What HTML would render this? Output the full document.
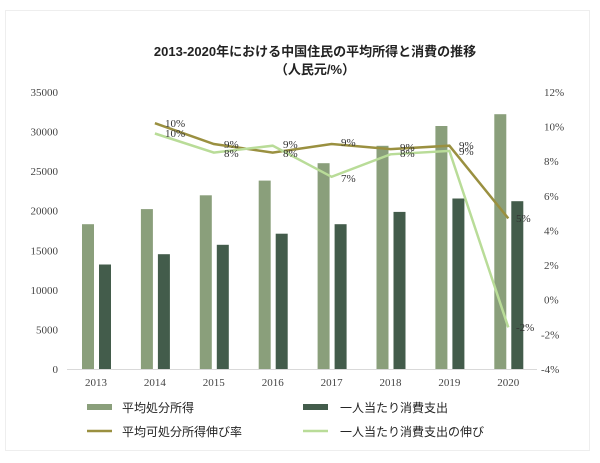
<!DOCTYPE html>
<html><head><meta charset="utf-8"><style>
body{margin:0;background:#fff;width:600px;height:463px;overflow:hidden}
svg{display:block}
.ax{font-family:"Liberation Serif",serif;font-size:11px;fill:#444}
.lb{font-family:"Liberation Serif",serif;font-size:11px;fill:#333}
.lg{font-family:"Liberation Sans","Noto Sans CJK JP",sans-serif;font-size:12px;fill:#222}
</style></head><body>
<svg width="600" height="463" xmlns="http://www.w3.org/2000/svg">
<rect x="5.5" y="10.5" width="584" height="440" fill="#fff" stroke="#eeeeee"/>
<text x="315" y="56" text-anchor="middle" font-family="'Liberation Sans','Noto Sans CJK JP',sans-serif" font-size="13" font-weight="bold" fill="#222">2013-2020年における中国住民の平均所得と消費の推移</text>
<text x="315" y="74" text-anchor="middle" font-family="'Liberation Sans','Noto Sans CJK JP',sans-serif" font-size="13" font-weight="bold" fill="#222">（人民元/%）</text>
<g class="ax" text-anchor="end">
<text x="58" y="96">35000</text><text x="58" y="135.6">30000</text><text x="58" y="175.2">25000</text><text x="58" y="214.7">20000</text><text x="58" y="254.3">15000</text><text x="58" y="293.9">10000</text><text x="58" y="333.4">5000</text><text x="58" y="373">0</text>
</g>
<g class="ax">
<text x="544" y="96">12%</text><text x="544" y="130.6">10%</text><text x="544" y="165.2">8%</text><text x="544" y="199.9">6%</text><text x="544" y="234.5">4%</text><text x="544" y="269.1">2%</text><text x="544" y="303.7">0%</text><text x="541" y="338.4">-2%</text><text x="541" y="373">-4%</text>
</g>
<line x1="67" y1="369.5" x2="537" y2="369.5" stroke="#d9d9d9"/>
<g fill="#8a9f7b">
<rect x="82" y="224.2" width="12" height="144.8"/><rect x="140.9" y="209.1" width="12" height="159.9"/><rect x="199.8" y="195.3" width="12" height="173.7"/><rect x="258.7" y="180.6" width="12" height="188.4"/><rect x="317.6" y="163.2" width="12" height="205.8"/><rect x="376.5" y="145.8" width="12" height="223.2"/><rect x="435.4" y="126" width="12" height="243"/><rect x="494.3" y="114.2" width="12" height="254.8"/>
</g>
<g fill="#435c4b">
<rect x="99" y="264.5" width="12" height="104.5"/><rect x="157.9" y="254.2" width="12" height="114.8"/><rect x="216.8" y="244.8" width="12" height="124.2"/><rect x="275.7" y="233.7" width="12" height="135.3"/><rect x="334.6" y="224.2" width="12" height="144.8"/><rect x="393.5" y="211.9" width="12" height="157.1"/><rect x="452.4" y="198.5" width="12" height="170.5"/><rect x="511.3" y="201.2" width="12" height="167.8"/>
</g>
<polyline points="154.9,123.2 213.8,144 272.7,152.6 331.6,144 390.5,149.1 449.4,145.7 508.3,218.4" fill="none" stroke="#9a9040" stroke-width="2.5"/>
<polyline points="154.9,133.5 213.8,152.6 272.7,145.7 331.6,176.8 390.5,154.3 449.4,150.9 508.3,327.4" fill="none" stroke="#b9dc98" stroke-width="2.5"/>
<g class="lb">
<text x="165" y="127">10%</text><text x="165" y="137">10%</text>
<text x="224" y="148">9%</text><text x="224" y="157">8%</text>
<text x="283" y="148">9%</text><text x="283" y="157">8%</text>
<text x="341" y="146">9%</text><text x="341" y="182">7%</text>
<text x="400" y="151">9%</text><text x="400" y="157">8%</text>
<text x="459" y="149">9%</text><text x="459" y="155">9%</text>
<text x="516" y="222">5%</text><text x="516" y="331">-2%</text>
</g>
<g class="ax" text-anchor="middle">
<text x="96" y="386">2013</text><text x="154.9" y="386">2014</text><text x="213.8" y="386">2015</text><text x="272.7" y="386">2016</text><text x="331.6" y="386">2017</text><text x="390.5" y="386">2018</text><text x="449.4" y="386">2019</text><text x="508.3" y="386">2020</text>
</g>
<rect x="87" y="404" width="25" height="6" fill="#8a9f7b"/>
<text class="lg" x="122" y="412">平均処分所得</text>
<rect x="303" y="404" width="25" height="6" fill="#435c4b"/>
<text class="lg" x="340" y="412">一人当たり消費支出</text>
<line x1="87" y1="431" x2="112" y2="431" stroke="#9a9040" stroke-width="2.5"/>
<text class="lg" x="122" y="436">平均可処分所得伸び率</text>
<line x1="303" y1="431" x2="328" y2="431" stroke="#b9dc98" stroke-width="2.5"/>
<text class="lg" x="340" y="436">一人当たり消費支出の伸び</text>
</svg>
</body></html>
